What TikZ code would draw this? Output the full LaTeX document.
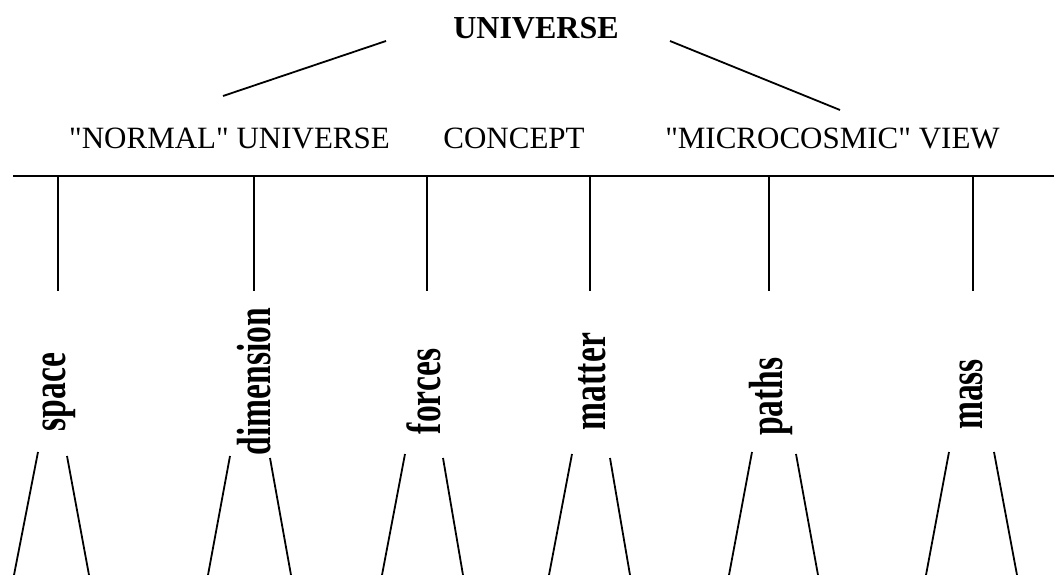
\documentclass[tikz,border=0pt]{standalone}
\usepackage{fontspec}
\setmainfont{Liberation Serif}[Ligatures=TeXOff]
\newfontfamily\stemfont[FakeStretch=0.7]{Liberation Serif}
\begin{document}
\begin{tikzpicture}[x=1pt,y=-1pt,
  link/.style={line width=1.8pt},
  heading/.style={inner sep=0pt, anchor=base, font=\fontsize{31}{31}\selectfont},
  title/.style={inner sep=0pt, anchor=base, font=\bfseries\fontsize{32}{32}\selectfont},
  stem/.style={inner sep=0pt, anchor=base, rotate=90, font=\stemfont\bfseries\fontsize{48}{48}\selectfont}]
\useasboundingbox (0,0) rectangle (1054,575);

% top level
\node[title] (universe) at (536,39) {UNIVERSE};
\node[heading] (normal) at (229.5,148) {"NORMAL" UNIVERSE};
\node[heading] (concept) at (514,148) {CONCEPT};
\node[heading] (micro) at (832.5,148) {"MICROCOSMIC" VIEW};

\coordinate (uL) at (386,41);
\coordinate (nL) at (223,96);
\coordinate (uR) at (670,41);
\coordinate (mR) at (840,110);
\draw[link] (uL) -- (nL);
\draw[link] (uR) -- (mR);

% bar with its six drops
\coordinate (barL) at (13,176);
\coordinate (barR) at (1054,176);
\draw[link] (barL) -- (barR);

\foreach \name/\x in {space/58, dimension/254, forces/427, matter/590, paths/769, mass/973}{
  \coordinate (top-\name) at (\x,176);
  \coordinate (drop-\name) at (\x,291);
  \draw[link] (top-\name) -- (drop-\name);
}

% rotated labels
\node[stem] (space) at (65,392) {space};
\node[stem] (dimension) at (270,381.5) {dimension};
\node[stem] (forces) at (440,391.5) {forces};
\node[stem] (matter) at (605,381.5) {matter};
\node[stem] (paths) at (782,396.5) {paths};
\node[stem] (mass) at (982,394.5) {mass};

% splayed legs below each label
\foreach \name/\la/\lay/\lb/\ra/\ray/\rb in {
  space/38/452/14/67/456/89,
  dimension/230/456/208/270/458/291,
  forces/405/454/382/443/458/463,
  matter/572/454/549/610/458/630,
  paths/752/452/729/796/454/818,
  mass/949/452/926/994/452/1017}{
  \coordinate (\name-la) at (\la,\lay);
  \coordinate (\name-lb) at (\lb,575);
  \coordinate (\name-ra) at (\ra,\ray);
  \coordinate (\name-rb) at (\rb,575);
  \draw[link] (\name-la) -- (\name-lb);
  \draw[link] (\name-ra) -- (\name-rb);
}
\end{tikzpicture}
\end{document}
